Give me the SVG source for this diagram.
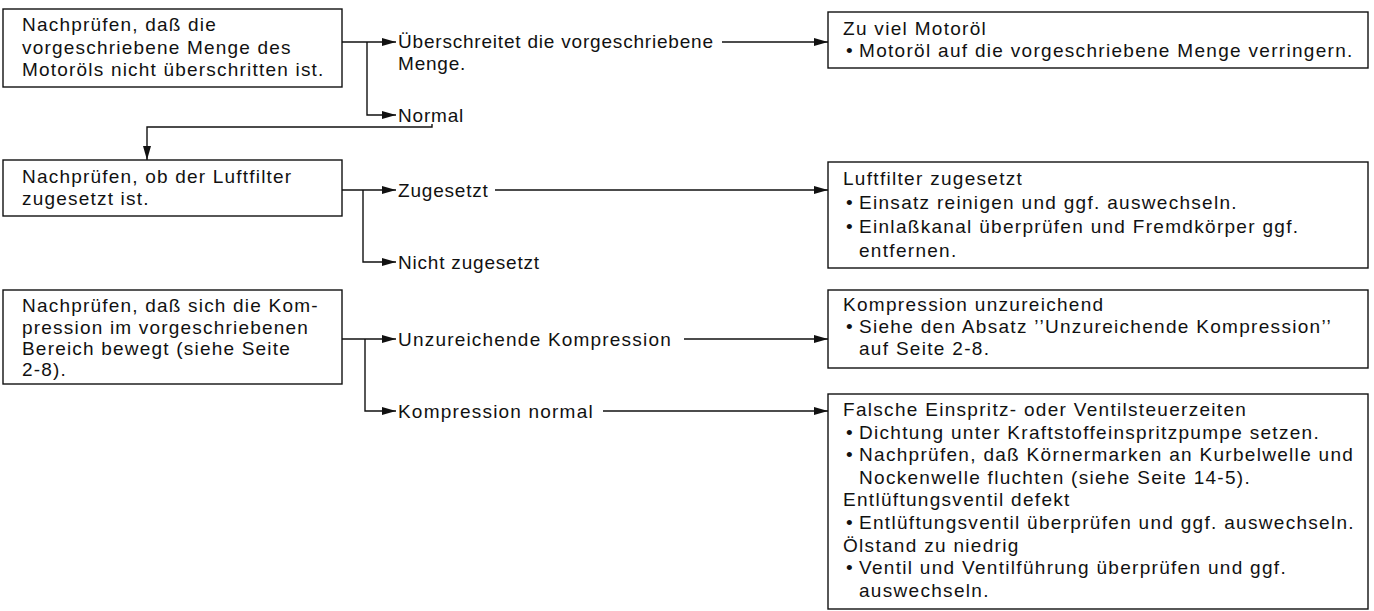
<svg xmlns="http://www.w3.org/2000/svg" width="1374" height="611" viewBox="0 0 1374 611">
  <defs>
    <marker id="arrow" markerUnits="userSpaceOnUse" markerWidth="15" markerHeight="9" refX="14" refY="4" orient="auto">
      <path d="M0,0 L14,4 L0,8 z" fill="#111"/>
    </marker>
    <style>
      .box { fill: #fff; stroke: #111; stroke-width: 1.4; }
      .line { fill: none; stroke: #111; stroke-width: 1.4; }
      .arr { marker-end: url(#arrow); }
      text { font-family: "Liberation Sans", Arial, sans-serif; fill: #111; }
      .q { font-size: 19px; letter-spacing: 1.2px; }
      .l { font-size: 19px; letter-spacing: 0.8px; }
      .r { font-size: 19px; letter-spacing: 1.3px; }
    </style>
  </defs>
  <rect width="1374" height="611" fill="#fff"/>

  <!-- connectors -->
  <g id="connectors">
    <!-- check 1: oil quantity -->
    <path class="line arr" d="M342,42 H396"/>
    <path class="line arr" d="M367,42 V115 H396"/>
    <path class="line arr" d="M722,42 H828"/>
    <path class="line arr" d="M432,124 V127 H147 V160"/>
    <!-- check 2: air filter -->
    <path class="line arr" d="M342,190 H396"/>
    <path class="line arr" d="M363,190 V262 H396"/>
    <path class="line arr" d="M495,190 H828"/>
    <!-- check 3: compression -->
    <path class="line arr" d="M342,339 H396"/>
    <path class="line arr" d="M365,339 V411 H396"/>
    <path class="line arr" d="M684,339 H828"/>
    <path class="line arr" d="M603,411 H828"/>
  </g>

  <!-- check nodes -->
  <g id="check-oil">
    <rect class="box" x="3" y="9" width="339" height="78"/>
    <text class="q" x="22" y="31">Nachprüfen, daß die</text>
    <text class="q" x="22" y="54">vorgeschriebene Menge des</text>
    <text class="q" x="22" y="76">Motoröls nicht überschritten ist.</text>
  </g>
  <g id="check-airfilter">
    <rect class="box" x="3" y="160" width="339" height="56"/>
    <text class="q" x="22" y="183">Nachprüfen, ob der Luftfilter</text>
    <text class="q" x="22" y="205">zugesetzt ist.</text>
  </g>
  <g id="check-compression">
    <rect class="box" x="3" y="290" width="339" height="94"/>
    <text class="q" x="22" y="312">Nachprüfen, daß sich die Kom-</text>
    <text class="q" x="22" y="334">pression im vorgeschriebenen</text>
    <text class="q" x="22" y="355">Bereich bewegt (siehe Seite</text>
    <text class="q" x="22" y="376">2-8).</text>
  </g>

  <!-- result labels -->
  <g id="label-over">
    <text class="l" x="398" y="48">Überschreitet die vorgeschriebene</text>
    <text class="l" x="398" y="70">Menge.</text>
  </g>
  <g id="label-normal"><text class="l" x="398" y="122">Normal</text></g>
  <g id="label-clogged"><text class="l" x="398" y="197">Zugesetzt</text></g>
  <g id="label-not-clogged"><text class="l" x="398" y="269">Nicht zugesetzt</text></g>
  <g id="label-low-compression"><text class="q" x="398" y="346">Unzureichende Kompression</text></g>
  <g id="label-compression-ok"><text class="q" x="398" y="418">Kompression normal</text></g>

  <!-- remedy nodes -->
  <g id="remedy-oil">
    <rect class="box" x="828" y="12" width="540" height="56"/>
    <text class="r" x="843" y="35">Zu viel Motoröl</text>
    <text class="r" x="846" y="57">•</text>
    <text class="r" x="859" y="57">Motoröl auf die vorgeschriebene Menge verringern.</text>
  </g>
  <g id="remedy-airfilter">
    <rect class="box" x="828" y="162" width="540" height="106"/>
    <text class="r" x="843" y="185">Luftfilter zugesetzt</text>
    <text class="r" x="846" y="209">•</text>
    <text class="r" x="859" y="209">Einsatz reinigen und ggf. auswechseln.</text>
    <text class="r" x="846" y="233">•</text>
    <text class="r" x="859" y="233">Einlaßkanal überprüfen und Fremdkörper ggf.</text>
    <text class="r" x="859" y="257">entfernen.</text>
  </g>
  <g id="remedy-compression">
    <rect class="box" x="828" y="290" width="540" height="78"/>
    <text class="r" x="843" y="311">Kompression unzureichend</text>
    <text class="r" x="846" y="333">•</text>
    <text class="r" x="859" y="333">Siehe den Absatz ’’Unzureichende Kompression’’</text>
    <text class="r" x="859" y="355">auf Seite 2-8.</text>
  </g>
  <g id="remedy-timing">
    <rect class="box" x="828" y="394" width="540" height="215"/>
    <text class="r" x="843" y="416">Falsche Einspritz- oder Ventilsteuerzeiten</text>
    <text class="r" x="846" y="439">•</text>
    <text class="r" x="859" y="439">Dichtung unter Kraftstoffeinspritzpumpe setzen.</text>
    <text class="r" x="846" y="461">•</text>
    <text class="r" x="859" y="461">Nachprüfen, daß Körnermarken an Kurbelwelle und</text>
    <text class="r" x="859" y="484">Nockenwelle fluchten (siehe Seite 14-5).</text>
    <text class="r" x="843" y="506">Entlüftungsventil defekt</text>
    <text class="r" x="846" y="529">•</text>
    <text class="r" x="859" y="529">Entlüftungsventil überprüfen und ggf. auswechseln.</text>
    <text class="r" x="843" y="552">Ölstand zu niedrig</text>
    <text class="r" x="846" y="574">•</text>
    <text class="r" x="859" y="574">Ventil und Ventilführung überprüfen und ggf.</text>
    <text class="r" x="859" y="597">auswechseln.</text>
  </g>
</svg>
